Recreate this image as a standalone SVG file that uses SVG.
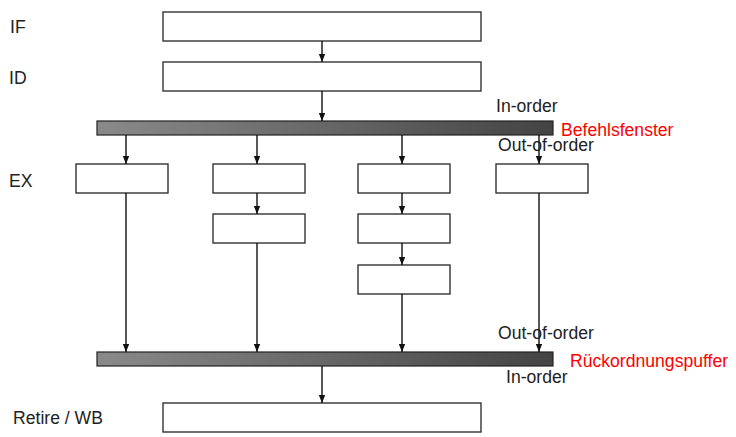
<svg xmlns="http://www.w3.org/2000/svg" width="736" height="437" viewBox="0 0 736 437">
<style>
.box{fill:#fff;stroke:#333;stroke-width:1.4}
.bar{fill:url(#g);stroke:#222;stroke-width:1.2}
.c line{stroke:#111;stroke-width:1.4;marker-end:url(#a)}
text{font-family:"Liberation Sans",Arial,sans-serif;font-size:17.6px;fill:#222}
.red{fill:#f00}
</style>
<defs>
<linearGradient id="g" x1="0" x2="1" y1="0" y2="0"><stop offset="0" stop-color="#8a8a8a"/><stop offset="1" stop-color="#444"/></linearGradient>
<marker id="a" viewBox="0 0 8 8" refX="8" refY="4" markerWidth="8" markerHeight="8" markerUnits="userSpaceOnUse" orient="auto"><path d="M0,0.8L8,4L0,7.2z" fill="#111"/></marker>
</defs>
<rect width="736" height="437" fill="#fff"/>
<g id="labels">
<text x="10" y="33">IF</text>
<text x="9" y="84">ID</text>
<text x="9" y="187">EX</text>
<text x="13" y="424">Retire / WB</text>
</g>
<g id="if"><rect class="box" x="163" y="12" width="318" height="29"/></g>
<g id="id"><rect class="box" x="163" y="62" width="318" height="29"/></g>
<g id="befehlsfenster"><rect class="bar" x="97" y="121" width="456" height="14"/>
<text x="496" y="112">In-order</text>
<text class="red" x="561" y="136">Befehlsfenster</text>
<text x="498" y="151">Out-of-order</text></g>
<g id="ex1"><rect class="box" x="76" y="164" width="92" height="29"/></g>
<g id="ex2a"><rect class="box" x="213" y="164" width="92" height="29"/></g>
<g id="ex2b"><rect class="box" x="213" y="214" width="92" height="29"/></g>
<g id="ex3a"><rect class="box" x="358" y="164" width="92" height="29"/></g>
<g id="ex3b"><rect class="box" x="358" y="214" width="92" height="29"/></g>
<g id="ex3c"><rect class="box" x="358" y="265" width="92" height="29"/></g>
<g id="ex4"><rect class="box" x="496" y="164" width="92" height="29"/></g>
<g id="rob"><rect class="bar" x="97" y="352" width="456" height="14"/>
<text x="498" y="339">Out-of-order</text>
<text class="red" x="570" y="367">Rückordnungspuffer</text>
<text x="506" y="383">In-order</text></g>
<g id="retire"><rect class="box" x="163" y="403" width="318" height="29"/></g>
<g class="c" id="connectors">
<line x1="322" y1="41" x2="322" y2="62"/>
<line x1="322" y1="91" x2="322" y2="121"/>
<line x1="126" y1="135" x2="126" y2="164"/>
<line x1="257" y1="135" x2="257" y2="164"/>
<line x1="402" y1="135" x2="402" y2="164"/>
<line x1="539" y1="135" x2="539" y2="164"/>
<line x1="257" y1="193" x2="257" y2="214"/>
<line x1="402" y1="193" x2="402" y2="214"/>
<line x1="402" y1="243" x2="402" y2="265"/>
<line x1="126" y1="193" x2="126" y2="352"/>
<line x1="257" y1="243" x2="257" y2="352"/>
<line x1="402" y1="294" x2="402" y2="352"/>
<line x1="539" y1="193" x2="539" y2="352"/>
<line x1="322" y1="366" x2="322" y2="403"/>
</g>
</svg>
